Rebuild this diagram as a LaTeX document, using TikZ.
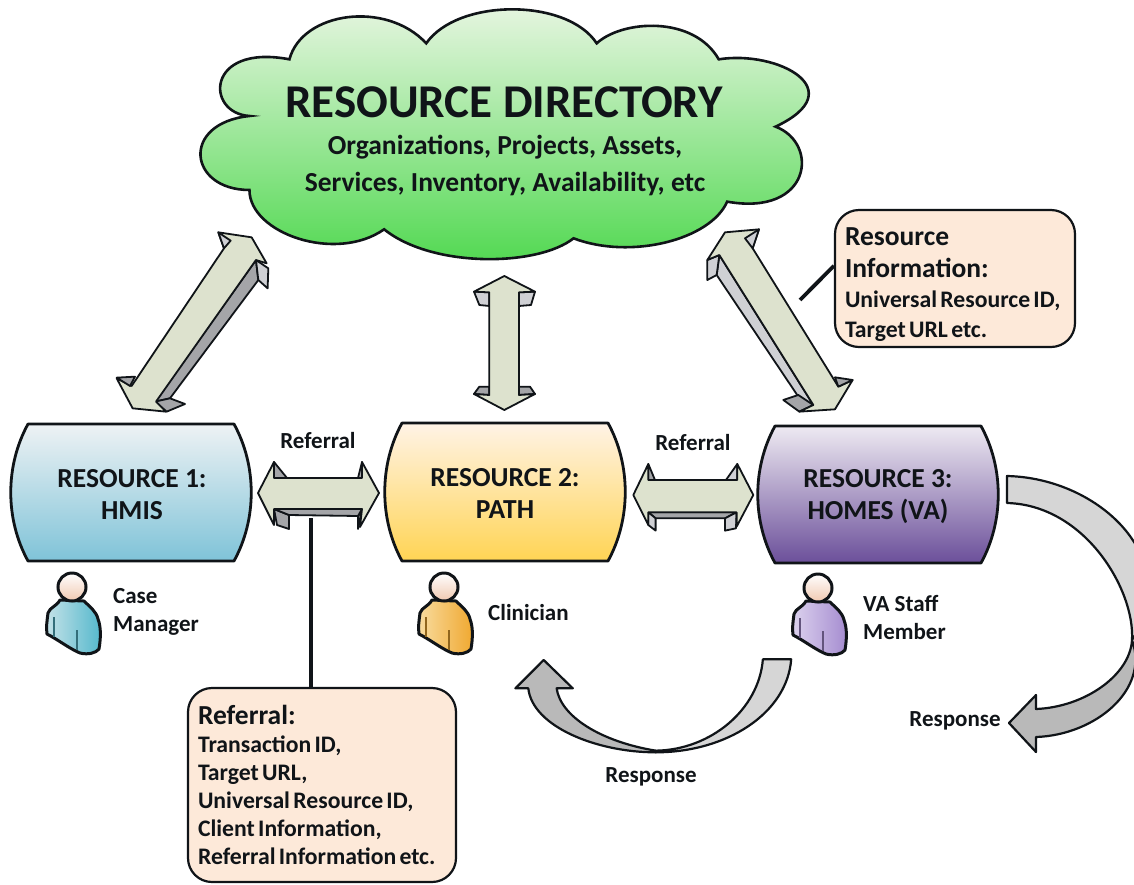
\documentclass[tikz,border=0pt]{standalone}
\usepackage{fontspec}
\setmainfont{Carlito}[BoldFont={Carlito Bold}]
\usetikzlibrary{calc}
\definecolor{ink}{HTML}{101418}
\definecolor{front}{HTML}{DDE2CE}
\definecolor{darkside}{HTML}{A4A5A8}
\definecolor{lightside}{HTML}{CFD0D4}
\definecolor{peach}{HTML}{FDE9D9}
\definecolor{ribbonL}{HTML}{D6D6D6}
\definecolor{ribbonD}{HTML}{B9B9B9}
\definecolor{cloudT}{HTML}{EAF6E4}
\definecolor{cloudM}{HTML}{90E58A}
\definecolor{cloudB}{HTML}{4FD84F}
\definecolor{oneT}{HTML}{EEF2F4}
\definecolor{oneM}{HTML}{A8D4E4}
\definecolor{oneB}{HTML}{7FC3D8}
\definecolor{twoT}{HTML}{FFF3E6}
\definecolor{twoM}{HTML}{FFE08C}
\definecolor{twoB}{HTML}{FFD454}
\definecolor{threeT}{HTML}{EEEAF2}
\definecolor{threeM}{HTML}{A48FC4}
\definecolor{threeB}{HTML}{6B4F9A}
\definecolor{caseD}{HTML}{55B8CC}
\definecolor{caseL}{HTML}{C4E2E8}
\definecolor{clinD}{HTML}{F0A830}
\definecolor{clinL}{HTML}{F8DCA0}
\definecolor{staffD}{HTML}{A58CD0}
\definecolor{staffL}{HTML}{DCD2EE}
\definecolor{skin}{HTML}{F0C8B0}
\tikzset{
  face/.style={draw=ink,line width=1.8pt,line join=round,fill=front},
  darkface/.style={draw=ink,line width=1.8pt,line join=round,fill=darkside},
  lightface/.style={draw=ink,line width=1.8pt,line join=round,fill=lightside},
  ribbonlight/.style={draw=ink,line width=2.2pt,line join=round,fill=ribbonL},
  ribbondark/.style={draw=ink,line width=2.2pt,line join=round,fill=ribbonD},
  labeltext/.style={font=\bfseries\fontsize{23}{28}\selectfont,text=ink,inner sep=0pt,align=left},
  restext/.style={font=\bfseries\fontsize{27.5}{32}\selectfont,text=ink,inner sep=0pt,align=center},
  infobox/.style={draw=ink,line width=2.2pt,fill=peach,rounded corners=24pt,inner sep=0pt,align=left,text=ink},
  leader/.style={draw=ink,line width=3.8pt}
}
\newcommand{\barrel}[6]{% cx, top, bottom, top colour, middle colour, bottom colour
  \path[draw=ink,line width=2.8pt,line join=round,top color=#4,middle color=#5,bottom color=#6]
    (#1-103,#2) -- (#1+103,#2)
    .. controls (#1+126,#2+42) and (#1+126,#3-42) .. (#1+103,#3)
    -- (#1-103,#3)
    .. controls (#1-126,#3-42) and (#1-126,#2+42) .. (#1-103,#2) -- cycle;
}
\newcommand{\person}[5]{% x, y, name, body dark, body light
  \begin{scope}[shift={(#1,#2)}]
    \path[draw=ink,line width=3pt,line join=round,left color=#5,right color=#4]
      (-12,13) .. controls (-16,20) and (-22,20) .. (-24,26)
      .. controls (-25,34) and (-26,40) .. (-25,47)
      .. controls (-15,52) and (-2,62) .. (8,66)
      .. controls (16,68) and (24,66) .. (27,62)
      .. controls (29,50) and (29,40) .. (26,32)
      .. controls (24,24) and (18,20) .. (12,14) -- cycle;
    \draw[#4!60!black,line width=1.2pt] (-18,30) -- (-18,50) (5,43) -- (5,63);
    \node[circle,draw=ink,line width=3pt,minimum size=28pt,inner sep=0pt,top color=white,bottom color=skin] (#3) at (0,0) {};
  \end{scope}
}
\begin{document}
\begin{tikzpicture}[x=1pt,y=-1pt]
\useasboundingbox (0,0) rectangle (1134,884);
\clip (0,0) rectangle (1134,884);
\fill[white] (0,0) rectangle (1134,884);

% cloud
\begin{scope}[shift={(180,0)},xscale=0.4209,yscale=0.3333]
\path[draw=ink,line width=2.6pt,line join=miter,top color=cloudT,middle color=cloudM,bottom color=cloudB]
  (260,178) .. controls (290,35) and (490,0) .. (585,130)
  .. controls (660,-6) and (920,-6) .. (990,130)
  .. controls (1050,60) and (1220,45) .. (1280,178)
  .. controls (1420,150) and (1600,270) .. (1415,380)
  .. controls (1520,430) and (1500,650) .. (1300,605)
  .. controls (1260,720) and (1070,780) .. (935,715)
  .. controls (850,800) and (600,805) .. (485,688)
  .. controls (370,790) and (165,700) .. (165,570)
  .. controls (20,570) and (0,370) .. (165,348)
  .. controls (60,340) and (60,130) .. (260,178) -- cycle;
\end{scope}
\node[font=\bfseries\fontsize{47}{50}\selectfont,text=ink,inner sep=0pt] (directory) at (504,102) {RESOURCE DIRECTORY};
\node[font=\bfseries\fontsize{27.5}{37}\selectfont,text=ink,inner sep=0pt,align=center] (directorysub) at (505,165) {Organizations, Projects, Assets,\\Services, Inventory, Availability, etc\par};

% left diagonal arrow
\begin{scope}[shift={(0,200)},scale=0.3333]
\draw[darkface] (768,180) -- (775,240) -- (510,595) -- (465,605) -- cycle;
\draw[lightface] (768,180) -- (805,205) -- (803,265) -- (775,240) -- cycle;
\draw[darkface] (465,605) -- (510,595) -- (555,612) -- (500,635) -- cycle;
\draw[face] (655,97) -- (755,112) -- (800,190) -- (768,180) -- (468,605) -- (498,635) -- (398,625) -- (350,535) -- (395,558) -- (672,145) -- cycle;
\draw[lightface] (655,97) -- (692,122) -- (672,145) -- cycle;
\draw[darkface] (350,533) -- (405,530) -- (390,558) -- cycle;
\end{scope}

% middle vertical arrow
\begin{scope}[shift={(370,260)},scale=0.3333]
\draw[lightface] (312,95) -- (358,97) -- (358,138) -- (328,135) -- cycle;
\draw[lightface] (447,97) -- (495,95) -- (483,135) -- (447,138) -- cycle;
\draw[darkface] (312,402) -- (328,380) -- (358,380) -- (358,405) -- cycle;
\draw[darkface] (447,380) -- (480,380) -- (495,402) -- (447,405) -- cycle;
\draw[face] (403,48) -- (495,95) -- (447,97) -- (447,405) -- (495,402) -- (403,450) -- (312,402) -- (358,405) -- (358,97) -- (312,95) -- cycle;
\end{scope}

% right diagonal arrow
\begin{scope}[shift={(680,200)},scale=0.3333]
\draw[lightface] (118,165) -- (110,225) -- (355,590) -- (400,615) -- cycle;
\draw[lightface] (82,180) -- (118,165) -- (110,225) -- (82,240) -- cycle;
\draw[darkface] (310,600) -- (355,585) -- (400,615) -- (358,635) -- cycle;
\draw[face] (237,88) -- (135,97) -- (82,180) -- (118,165) -- (400,615) -- (358,635) -- (465,628) -- (518,540) -- (475,560) -- (218,145) -- cycle;
\draw[lightface] (237,88) -- (195,115) -- (218,145) -- cycle;
\draw[darkface] (518,540) -- (465,532) -- (475,560) -- cycle;
\end{scope}

% referral arrow 1
\draw[darkface] (274,462) -- (287,478) -- (274,478) -- cycle;
\draw[darkface] (362,462) -- (362,478) -- (358,478) -- cycle;
\draw[darkface] (274,509) -- (277,525) -- (289,529) -- (289,515) -- cycle;
\draw[darkface] (362,509) -- (358,529) -- (358,516) -- cycle;
\draw[darkface] (274,509) -- (362,509) -- (358,516) -- (289,515) -- cycle;
\draw[face] (258,493) -- (274,462) -- (274,478) -- (362,478) -- (362,462) -- (379,493) -- (360,527) -- (362,509) -- (274,509) -- (274,525) -- cycle;

% referral arrow 2
\begin{scope}[shift={(370,260)},scale=0.3333]
\draw[darkface] (835,612) -- (855,660) -- (835,660) -- cycle;
\draw[lightface] (1102,612) -- (1102,660) -- (1068,660) -- cycle;
\draw[darkface] (835,757) -- (1100,757) -- (1065,775) -- (857,775) -- cycle;
\draw[lightface] (835,757) -- (835,795) -- (857,812) -- (857,775) -- cycle;
\draw[lightface] (1100,757) -- (1098,805) -- (1065,812) -- (1065,775) -- cycle;
\draw[face] (790,705) -- (835,612) -- (835,660) -- (1102,660) -- (1102,612) -- (1150,705) -- (1100,800) -- (1100,757) -- (835,757) -- (835,795) -- cycle;
\end{scope}

% resources
\barrel{131}{424}{561}{oneT}{oneM}{oneB}
\node[restext] (res1) at (132,494.5) {RESOURCE 1:\\HMIS\par};
\barrel{505}{423}{561}{twoT}{twoM}{twoB}
\node[restext] (res2) at (505,493) {RESOURCE 2:\\PATH\par};
\barrel{878}{426}{563}{threeT}{threeM}{threeB}
\node[restext] (res3) at (878,497) {RESOURCE 3:\\HOMES (VA)\par};

% people
\person{72}{587}{case}{caseD}{caseL}
\person{444}{587}{clin}{clinD}{clinL}
\person{818}{588}{staff}{staffD}{staffL}
\node[labeltext,anchor=west] (caselabel) at (113,612) {Case\\Manager\par};
\node[labeltext,anchor=west] (clinlabel) at (488,613) {Clinician};
\node[labeltext,anchor=west] (stafflabel) at (863,617) {VA Staff\\Member\par};
\node[labeltext] (ref1) at (318,441) {Referral};
\node[labeltext] (ref2) at (693,443) {Referral};
\node[labeltext] (resp1) at (651,777) {Response};
\node[labeltext] (resp2) at (955,721) {Response};

% lower curved arrow
\begin{scope}[shift={(500,600)},xscale=0.4044,yscale=0.3333]
\draw[ribbondark] (385,457) .. controls (240,457) and (80,380) .. (70,265) -- (38,265) -- (108,180) -- (180,265) -- (140,265) .. controls (150,350) and (250,425) .. (385,452) -- cycle;
\draw[ribbonlight] (650,178) -- (720,178) .. controls (710,340) and (560,457) .. (385,457) -- (385,452) .. controls (520,450) and (640,330) .. (650,178) -- cycle;
\end{scope}

% right curved arrow
\draw[ribbondark] (1132,640) .. controls (1150,690) and (1095,735) .. (1036,737) -- (1036,752) -- (1009,723) -- (1036,695) -- (1036,709) .. controls (1085,707) and (1130,675) .. (1132,640) -- cycle;
\draw[ribbonlight] (1007,476) .. controls (1100,478) and (1185,560) .. (1132,640) .. controls (1135,590) and (1085,505) .. (1007,503) -- cycle;

% information boxes
\node[infobox,minimum width=240pt,minimum height=137pt,text width=220pt] (infobox) at (955,278.5)
 {\bfseries\fontsize{27.5}{32}\selectfont\rule{0pt}{30pt}Resource\\Information:\\ \fontsize{23.7}{30}\selectfont Universal Resource ID,\\Target URL etc.\par};
\node[infobox,minimum width=268pt,minimum height=194pt,text width=248pt] (refbox) at (322,785)
 {\bfseries\fontsize{27.5}{30}\selectfont Referral:\\ \fontsize{23.7}{28}\selectfont Transaction ID,\\Target URL,\\Universal Resource ID,\\Client Information,\\Referral Information etc.\par};
\coordinate (infostart) at (800,300);
\coordinate (refstart) at (311,518);
\draw[leader] (infostart) -- (infobox.174);
\draw[leader] (refstart) -- (refbox.north -| refstart);
\end{tikzpicture}
\end{document}
